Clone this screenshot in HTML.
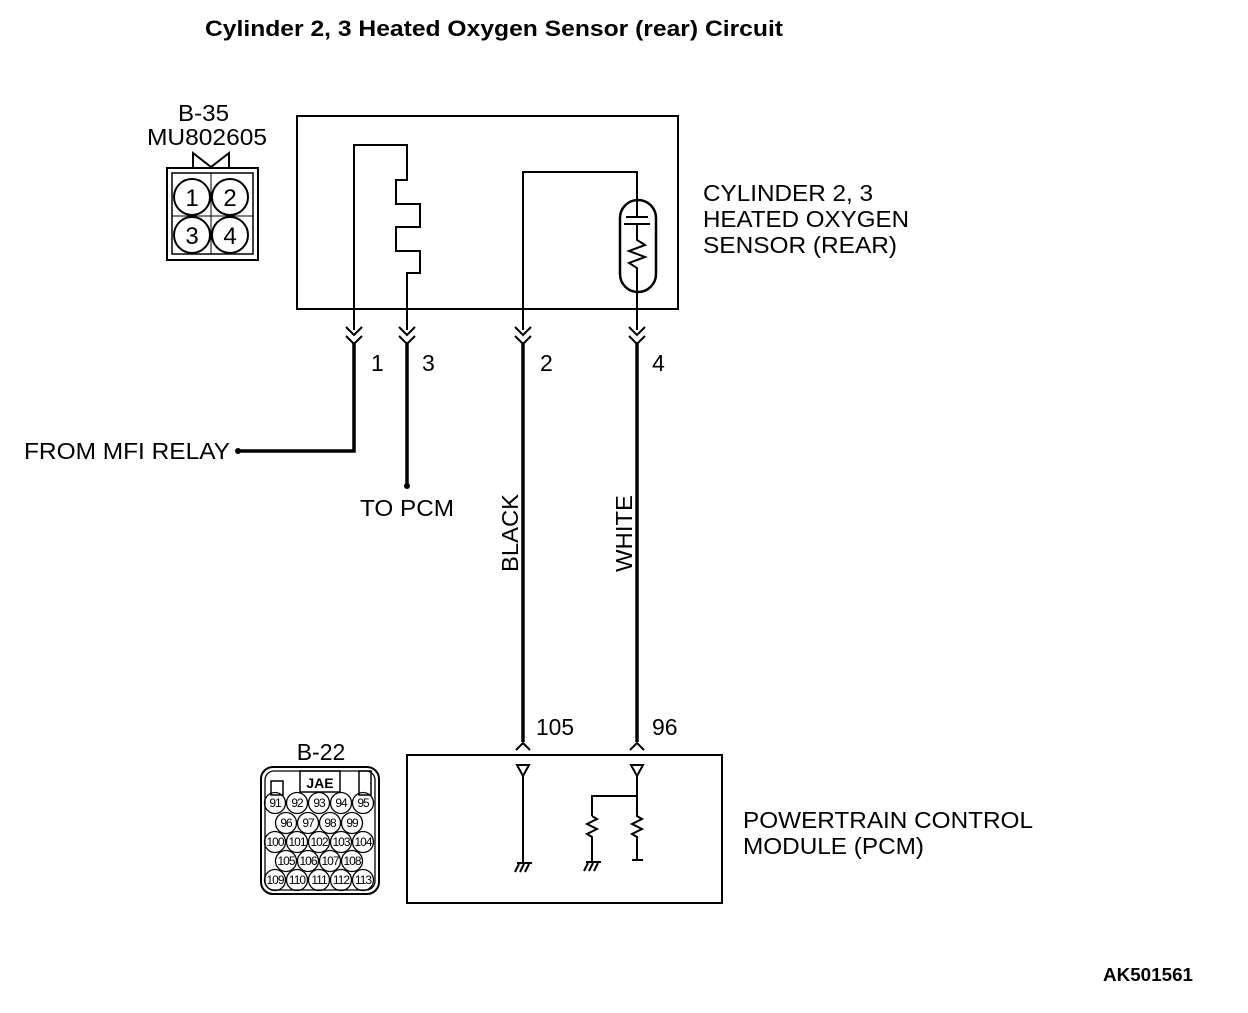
<!DOCTYPE html>
<html><head><style>
body{margin:0;background:#fff}
svg text{font-family:"Liberation Sans",sans-serif;fill:#000}
</style></head><body>
<svg width="1248" height="1008" viewBox="0 0 1248 1008" xmlns="http://www.w3.org/2000/svg">
<rect width="1248" height="1008" fill="#fff"/>
<text x="205" y="36" font-size="22" font-weight="bold" textLength="578" lengthAdjust="spacingAndGlyphs">Cylinder 2, 3 Heated Oxygen Sensor (rear) Circuit</text>
<text x="1103" y="981" font-size="18" font-weight="bold" textLength="90" lengthAdjust="spacingAndGlyphs">AK501561</text>

<!-- B-35 -->
<text x="178" y="121" font-size="23" textLength="51" lengthAdjust="spacingAndGlyphs">B-35</text>
<text x="147" y="145" font-size="23" textLength="120" lengthAdjust="spacingAndGlyphs">MU802605</text>
<g fill="none" stroke="#000" stroke-width="2">
<polyline points="193,167 193,153 211,167 229,153 229,167"/>
<rect x="167" y="168" width="91" height="92"/>
<rect x="172" y="173" width="81" height="81" stroke-width="1.5"/>
<line x1="211" y1="173" x2="211" y2="254" stroke-width="1"/>
<line x1="172" y1="216" x2="253" y2="216" stroke-width="1"/>
<circle cx="192" cy="197" r="18" fill="#fff"/>
<circle cx="230" cy="197" r="18" fill="#fff"/>
<circle cx="192" cy="235" r="18" fill="#fff"/>
<circle cx="230" cy="235" r="18" fill="#fff"/>
</g>
<g font-size="24" text-anchor="middle">
<text x="192" y="206">1</text><text x="230" y="206">2</text>
<text x="192" y="244">3</text><text x="230" y="244">4</text>
</g>

<!-- Sensor box -->
<g fill="none" stroke="#000" stroke-width="2">
<rect x="297" y="116" width="381" height="193"/>
<polyline points="354,330 354,145 407,145 407,180 396,180 396,204 420,204 420,227 396,227 396,251 420,251 420,273 407,273 407,330"/>
<polyline points="523,330 523,172 637,172 637,330"/>
<rect x="620" y="200" width="36" height="92" rx="18" fill="#fff" stroke-width="2.5"/>
<line x1="637" y1="200" x2="637" y2="217"/>
<line x1="626" y1="217" x2="648" y2="217"/>
<line x1="624" y1="224" x2="650" y2="224"/>
<polyline points="637,224 637,240 645,245 629,251 645,257 629,263 637,268 637,292"/>
<g stroke-width="2">
<polyline points="346,327 354,335 362,327"/><polyline points="346,336 354,344 362,336"/>
<polyline points="399,327 407,335 415,327"/><polyline points="399,336 407,344 415,336"/>
<polyline points="515,327 523,335 531,327"/><polyline points="515,336 523,344 531,336"/>
<polyline points="629,327 637,335 645,327"/><polyline points="629,336 637,344 645,336"/>
</g>
</g>
<g fill="none" stroke="#000" stroke-width="3.5">
<polyline points="354,342 354,451 238,451"/>
<line x1="407" y1="342" x2="407" y2="485"/>
<line x1="523" y1="342" x2="523" y2="742"/>
<line x1="637" y1="342" x2="637" y2="742"/>
</g>
<circle cx="238" cy="451" r="3" fill="#000"/>
<circle cx="407" cy="486" r="3" fill="#000"/>
<g font-size="23">
<text x="371" y="371">1</text><text x="422" y="371">3</text>
<text x="540" y="371">2</text><text x="652" y="371">4</text>
<text x="24" y="459" textLength="206" lengthAdjust="spacingAndGlyphs">FROM MFI RELAY</text>
<text x="360" y="516" textLength="94" lengthAdjust="spacingAndGlyphs">TO PCM</text>
<text x="703" y="201" textLength="170" lengthAdjust="spacingAndGlyphs">CYLINDER 2, 3</text>
<text x="703" y="227" textLength="206" lengthAdjust="spacingAndGlyphs">HEATED OXYGEN</text>
<text x="703" y="253" textLength="194" lengthAdjust="spacingAndGlyphs">SENSOR (REAR)</text>
<text x="536" y="735" textLength="38" lengthAdjust="spacingAndGlyphs">105</text><text x="652" y="735">96</text>
<text x="743" y="828" textLength="290" lengthAdjust="spacingAndGlyphs">POWERTRAIN CONTROL</text>
<text x="743" y="854" textLength="181" lengthAdjust="spacingAndGlyphs">MODULE (PCM)</text>
<text transform="translate(518,572) rotate(-90)" textLength="78" lengthAdjust="spacingAndGlyphs">BLACK</text>
<text transform="translate(632,572) rotate(-90)" textLength="77" lengthAdjust="spacingAndGlyphs">WHITE</text>
</g>

<!-- PCM -->
<g fill="none" stroke="#000" stroke-width="2">
<polyline points="516,750 523,743 530,750"/>
<polyline points="630,750 637,743 644,750"/>
<rect x="407" y="755" width="315" height="148"/>
<polygon points="517,765 529,765 523,776"/>
<polygon points="631,765 643,765 637,776"/>
<line x1="523" y1="776" x2="523" y2="863"/>
<line x1="517" y1="863" x2="532" y2="863"/>
<line x1="519" y1="864" x2="515" y2="872"/><line x1="524" y1="864" x2="520" y2="872"/><line x1="529" y1="864" x2="525" y2="872"/>
<polyline points="637,776 637,796 592,796 592,816"/>
<polyline points="592,816 597,819 587,824 597,829 587,834 592,837 592,862"/>
<line x1="586" y1="862" x2="601" y2="862"/>
<line x1="588" y1="863" x2="584" y2="871"/><line x1="593" y1="863" x2="589" y2="871"/><line x1="598" y1="863" x2="594" y2="871"/>
<polyline points="637,796 637,816 642,819 632,824 642,829 632,834 637,837 637,860"/>
<line x1="632" y1="860" x2="643" y2="860"/>
</g>

<!-- B-22 -->
<text x="321" y="760" font-size="23" text-anchor="middle">B-22</text>
<g fill="none" stroke="#000" stroke-width="2">
<rect x="261" y="767" width="118" height="127" rx="12"/>
<rect x="265" y="771" width="110" height="119" rx="9" stroke-width="1.3"/>
<rect x="271" y="781" width="12" height="14" stroke-width="1.5"/>
<rect x="359" y="771" width="12" height="24" stroke-width="1.5"/>
<rect x="300" y="771" width="40" height="21" stroke-width="1.5"/>
</g>
<text x="320" y="788" font-size="14" font-family="Liberation Serif" text-anchor="middle" font-weight="bold">JAE</text>
<g fill="none" stroke="#000" stroke-width="1.3">
<circle cx="275" cy="803" r="10.5"/><circle cx="297" cy="803" r="10.5"/><circle cx="319" cy="803" r="10.5"/><circle cx="341" cy="803" r="10.5"/><circle cx="363" cy="803" r="10.5"/>
<circle cx="286" cy="823" r="10.5"/><circle cx="308" cy="823" r="10.5"/><circle cx="330" cy="823" r="10.5"/><circle cx="352" cy="823" r="10.5"/>
<circle cx="275" cy="842" r="10.5"/><circle cx="297" cy="842" r="10.5"/><circle cx="319" cy="842" r="10.5"/><circle cx="341" cy="842" r="10.5"/><circle cx="363" cy="842" r="10.5"/>
<circle cx="286" cy="861" r="10.5"/><circle cx="308" cy="861" r="10.5"/><circle cx="330" cy="861" r="10.5"/><circle cx="352" cy="861" r="10.5"/>
<circle cx="275" cy="880" r="10.5"/><circle cx="297" cy="880" r="10.5"/><circle cx="319" cy="880" r="10.5"/><circle cx="341" cy="880" r="10.5"/><circle cx="363" cy="880" r="10.5"/>
</g>
<g font-size="12" text-anchor="middle" letter-spacing="-1">
<text x="275" y="807">91</text><text x="297" y="807">92</text><text x="319" y="807">93</text><text x="341" y="807">94</text><text x="363" y="807">95</text>
<text x="286" y="827">96</text><text x="308" y="827">97</text><text x="330" y="827">98</text><text x="352" y="827">99</text>
<text x="275" y="846">100</text><text x="297" y="846">101</text><text x="319" y="846">102</text><text x="341" y="846">103</text><text x="363" y="846">104</text>
<text x="286" y="865">105</text><text x="308" y="865">106</text><text x="330" y="865">107</text><text x="352" y="865">108</text>
<text x="275" y="884">109</text><text x="297" y="884">110</text><text x="319" y="884">111</text><text x="341" y="884">112</text><text x="363" y="884">113</text>
</g>
</svg>
</body></html>
